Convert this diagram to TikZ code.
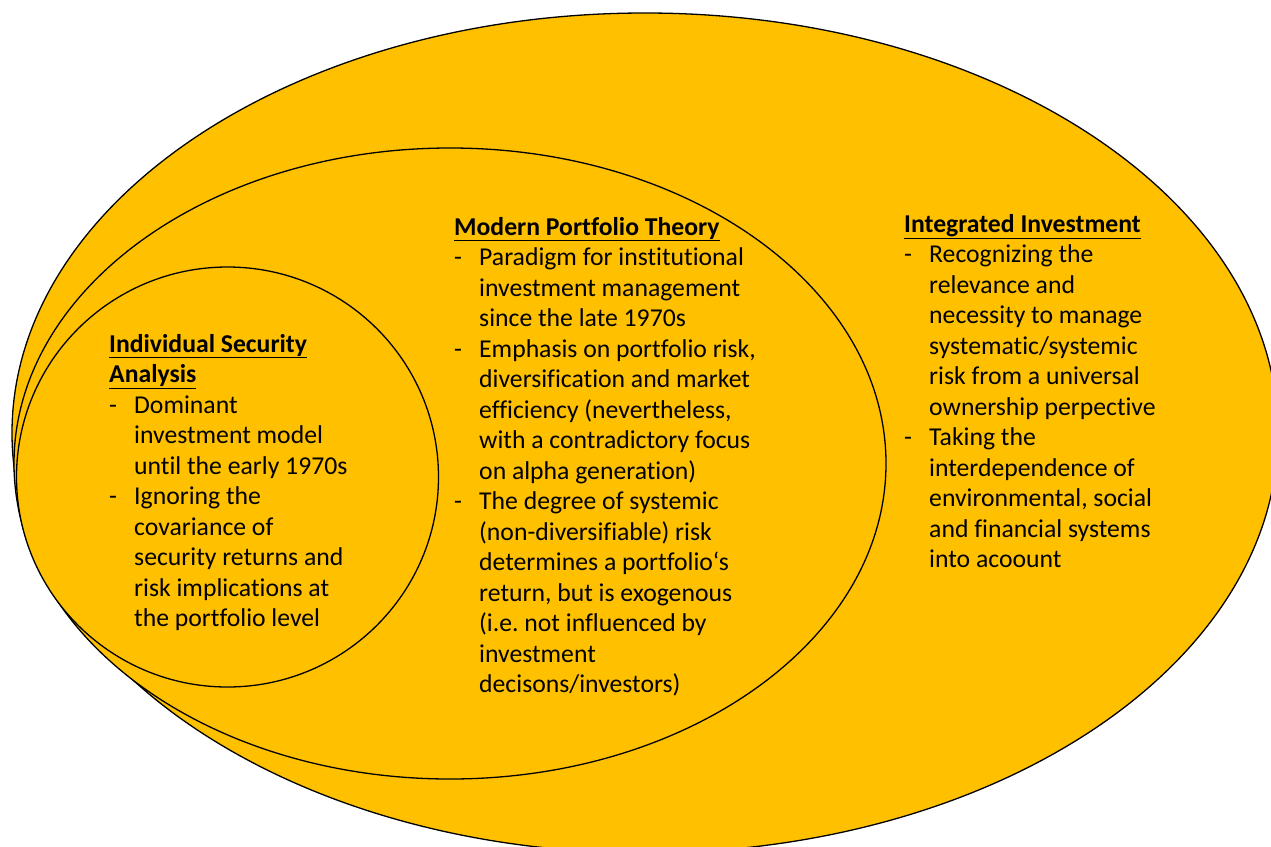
\documentclass[tikz,border=0pt]{standalone}
\usepackage{fontspec}
\setmainfont{Carlito}[Ligatures={NoCommon}]
\definecolor{gold}{HTML}{FFC000}
\newcommand\hd[1]{\multicolumn{2}{@{}l@{}}{\underline{\textbf{#1}}}}
\tikzset{
  ring/.style={fill=gold,draw=black,line width=1.3pt},
  txt/.style={anchor=base west,inner sep=0pt,align=left,
    font=\fontsize{25.7pt}{30.5pt}\selectfont}
}
\begin{document}
\begin{tikzpicture}[x=1pt,y=-1pt]
\useasboundingbox (0,0) rectangle (1271,846);
\clip (0,0) rectangle (1271,846);
% nested rings
\draw[ring] (645,433) ellipse [x radius=633pt, y radius=420pt];
\draw[ring] (450,463.5) ellipse [x radius=436pt, y radius=315.5pt];
\draw[ring] (227.5,477) ellipse [x radius=211pt, y radius=210pt];
% texts
\node[txt] (isa) at (109,352) {\begin{tabular}[t]{@{}p{25pt}@{}l@{}}
\hd{Individual Security}\\
\hd{Analysis}\\
- & Dominant\\
  & investment model\\
  & until the early 1970s\\
- & Ignoring the\\
  & covariance of\\
  & security returns and\\
  & risk implications at\\
  & the portfolio level
\end{tabular}};
\node[txt] (mpt) at (454,235) {\begin{tabular}[t]{@{}p{25pt}@{}l@{}}
\hd{Modern Portfolio Theory}\\
- & Paradigm for institutional\\
  & investment management\\
  & since the late 1970s\\
- & Emphasis on portfolio risk,\\
  & diversification and market\\
  & efficiency (nevertheless,\\
  & with a contradictory focus\\
  & on alpha generation)\\
- & The degree of systemic\\
  & (non-diversifiable) risk\\
  & determines a portfolio‘s\\
  & return, but is exogenous\\
  & (i.e.\ not influenced by\\
  & investment\\
  & decisons/investors)
\end{tabular}};
\node[txt] (ii) at (904,232) {\begin{tabular}[t]{@{}p{25pt}@{}l@{}}
\hd{Integrated Investment}\\
- & Recognizing the\\
  & relevance and\\
  & necessity to manage\\
  & systematic/systemic\\
  & risk from a universal\\
  & ownership perpective\\
- & Taking the\\
  & interdependence of\\
  & environmental, social\\
  & and financial systems\\
  & into acoount
\end{tabular}};
\end{tikzpicture}
\end{document}
